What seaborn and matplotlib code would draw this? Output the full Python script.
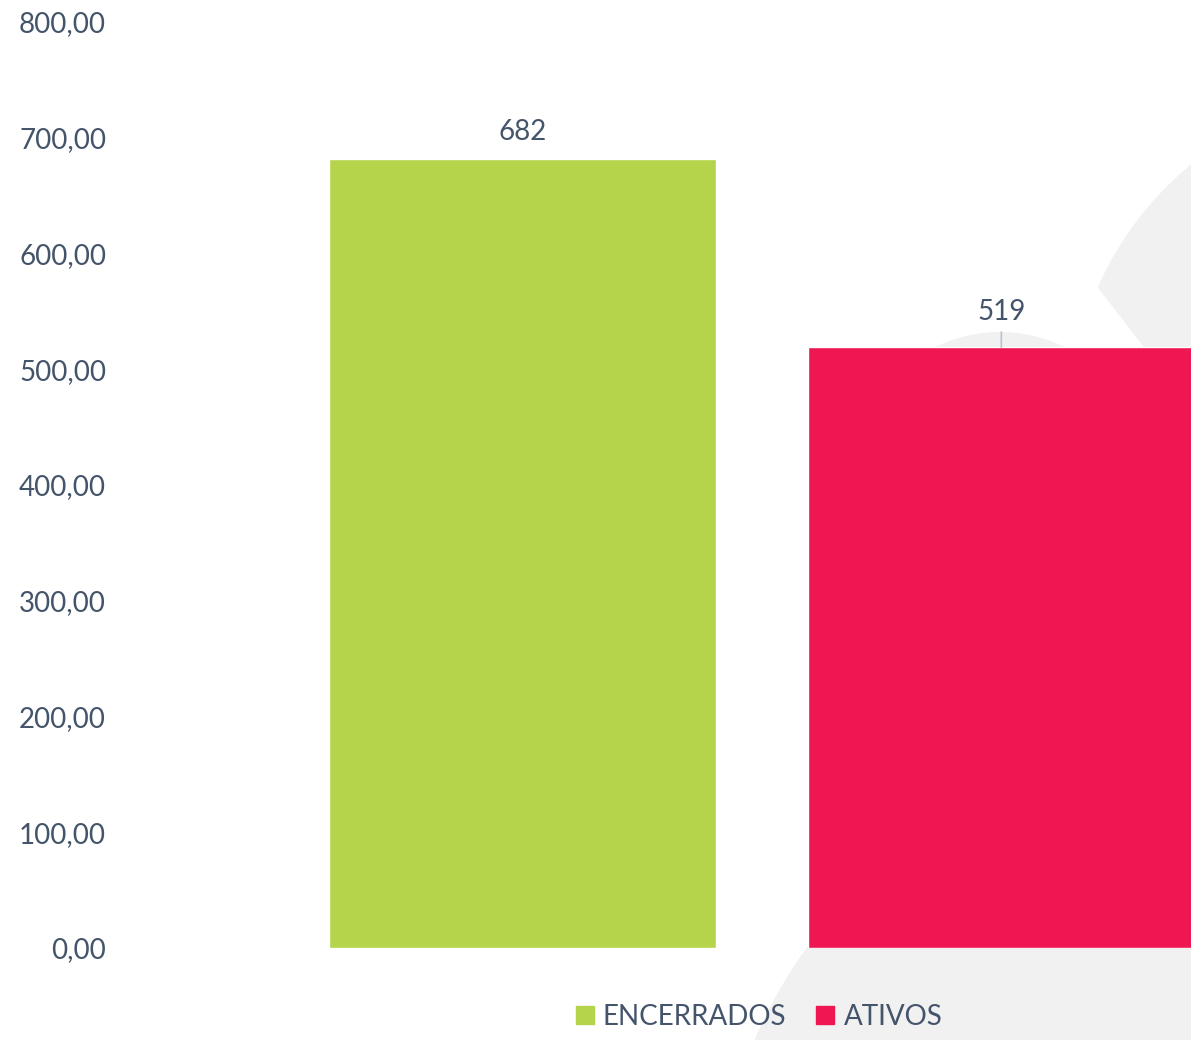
import numpy as np
import pandas as pd
import matplotlib
matplotlib.use("Agg")
import matplotlib.pyplot as plt
import seaborn as sns
from matplotlib.patches import Polygon, Ellipse
from matplotlib.ticker import FuncFormatter
from matplotlib.lines import Line2D

categories = ["ENCERRADOS", "ATIVOS"]
values = [682, 519]
colors = ["#B5D44B", "#EF1751"]
yticks = [0, 100, 200, 300, 400, 500, 600, 700, 800]

TEXT = "#44546A"
W, H = 1191, 1040

sns.set_theme(style="white")
plt.rcParams["font.family"] = ["Lato", "DejaVu Sans"]

fig = plt.figure(figsize=(W / 100, H / 100), dpi=100)
fig.patch.set_facecolor("white")

def fx(x):
    return x / W

def fy(y):
    return 1 - y / H

# background axes for decorative shapes (pixel coords, y downward)
bg = fig.add_axes([0, 0, 1, 1], zorder=0)
bg.set_xlim(0, W)
bg.set_ylim(H, 0)
bg.axis("off")
grey = "#F1F1F1"
for (cx, cy, r) in [(1180, 1220, 462), (1000, 480, 148)]:
    bg.add_patch(Ellipse((cx, cy), 2 * r, 2 * r, facecolor=grey, edgecolor="none"))
cx, cy, r = 1400, 420, 330
a0 = np.arctan2(163 - cy, 1191 - cx)
a1 = np.arctan2(288 - cy, 1099 - cx)
angs = np.linspace(a0, a1, 60)
pts = [(cx + r * np.cos(a), cy + r * np.sin(a)) for a in angs]
pts += [(1191, 408), (1191, 163)]
bg.add_patch(Polygon(pts, closed=True, facecolor=grey, edgecolor="none"))

ax = fig.add_axes([fx(120), fy(948), fx(1191) - fx(120), fy(22) - fy(948)], zorder=1)
ax.patch.set_alpha(0)

df = pd.DataFrame({"cat": categories, "val": values})
sns.barplot(data=df, x="cat", y="val", hue="cat", palette=colors, width=0.808,
            dodge=False, legend=False, ax=ax, saturation=1, zorder=2)

ax.set_ylim(0, 800)
ax.set_xlim(-0.84, 1.396)
ax.set_yticks(yticks)
ax.yaxis.set_major_formatter(FuncFormatter(lambda v, p: f"{v:.2f}".replace(".", ",")))
ax.tick_params(axis="y", length=0, pad=10, labelsize=20, labelcolor=TEXT)
ax.set_xticks([])
ax.set_xlabel("")
ax.set_ylabel("")
for s in ax.spines.values():
    s.set_visible(False)

# data labels
for i, v in enumerate(values):
    ax.annotate(str(v), (i, v), xytext=(0, 10 if i == 0 else 16), textcoords="offset points",
                ha="center", va="bottom", fontsize=20, color=TEXT)
# leader line for second label
ax.annotate("", (1, values[1]), xytext=(0, 11), textcoords="offset points",
            arrowprops=dict(arrowstyle="-", color="#B8C4D2", lw=1.2, shrinkA=0, shrinkB=0))

handles = [Line2D([0], [0], marker="s", linestyle="none", markersize=13,
                  markerfacecolor=c, markeredgecolor=c) for c in colors]
leg = fig.legend(handles, categories, loc="center", bbox_to_anchor=(fx(758), fy(1017)), ncol=2,
                 frameon=False, fontsize=20, labelcolor=TEXT, handletextpad=0.25,
                 columnspacing=1.0, handlelength=0.8)
leg.set_zorder(3)

fig.savefig("out.png", dpi=100, facecolor="white")
